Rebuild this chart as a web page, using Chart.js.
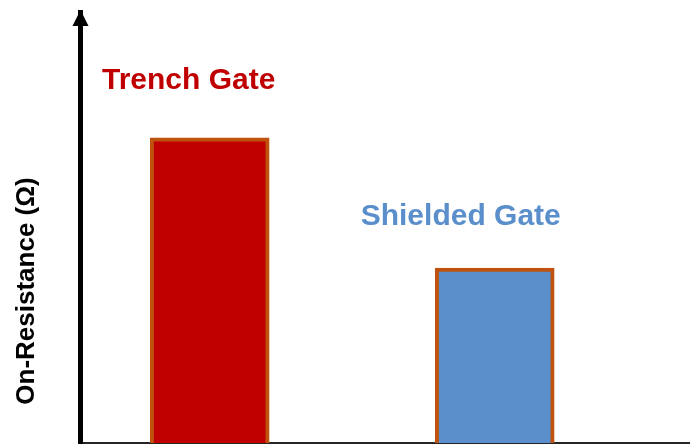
<!DOCTYPE html>
<html>
<head>
<meta charset="utf-8">
<script src="https://cdn.jsdelivr.net/npm/chart.js@4"></script>
<style>
html, body { margin:0; padding:0; background:#fff; }
#wrap { width:696px; height:444px; }
</style>
</head>
<body>
<div id="wrap"><canvas id="c"></canvas></div>
<script>
// categories and values
var gateTypes = ['Trench Gate', 'Shielded Gate'];
var gateX = [2.13, 6.81];          // where each bar sits on the x scale (0..10)
var onResistance = [70.8, 40.6];   // relative on-resistance, scale 0..100
var yTitle = 'On-Resistance (\u03A9)';

var fillCols = ['#C00000', '#5B8FCC'];
var textCols = ['#C00000', '#5B8FCC'];
// label placement relative to each bar top (px)
var labelOff = [[-21, -49], [-34, -43]];

var points = [];
for (var i = 0; i < gateTypes.length; i++) points.push({x: gateX[i], y: onResistance[i]});

var decorations = {
    id: 'decorations',
    afterDraw: function(chart) {
        var ctx = chart.ctx, a = chart.chartArea;
        ctx.save();
        // arrow head on the y axis
        ctx.fillStyle = '#000';
        ctx.beginPath();
        ctx.moveTo(a.left + 0.5, a.top - 2);
        ctx.lineTo(a.left - 7.5, a.top + 14);
        ctx.lineTo(a.left + 8.5, a.top + 14);
        ctx.closePath();
        ctx.fill();
        // y axis title
        ctx.translate(27, 291);
        ctx.rotate(-Math.PI / 2);
        ctx.font = 'bold 26px "Liberation Sans", Arial, sans-serif';
        ctx.textAlign = 'center';
        ctx.textBaseline = 'middle';
        ctx.fillText(yTitle, 0, 0);
        ctx.restore();
        // gate labels above bars
        var meta = chart.getDatasetMeta(0);
        ctx.save();
        ctx.font = 'bold 30px "Liberation Sans", Arial, sans-serif';
        ctx.textAlign = 'center';
        ctx.textBaseline = 'alphabetic';
        meta.data.forEach(function(bar, j) {
            ctx.fillStyle = textCols[j];
            ctx.fillText(gateTypes[j], bar.x + labelOff[j][0], bar.y + labelOff[j][1]);
        });
        ctx.restore();
    }
};

new Chart(document.getElementById('c'), {
    type: 'bar',
    data: {
        datasets: [{
            label: 'On-Resistance',
            data: points,
            backgroundColor: fillCols,
            borderColor: '#BF520F',
            borderWidth: 4,
            barThickness: 119
        }]
    },
    options: {
        responsive: true,
        maintainAspectRatio: false,
        animation: false,
        layout: { padding: { top: 12, right: 7, left: 0, bottom: 0 } },
        plugins: { legend: { display: false }, tooltip: { enabled: false } },
        scales: {
            x: {
                type: 'linear', min: 0, max: 10,
                offset: false,
                z: 1,
                grid: { display: false },
                ticks: { display: false },
                border: { color: '#262626', width: 2 },
                afterFit: function(s) { s.height = 1; }
            },
            y: {
                min: 0, max: 100,
                grid: { display: false },
                ticks: { display: false },
                border: { color: '#000', width: 5 },
                afterFit: function(s) { s.width = 80; }
            }
        }
    },
    plugins: [decorations]
});
</script>
</body>
</html>
